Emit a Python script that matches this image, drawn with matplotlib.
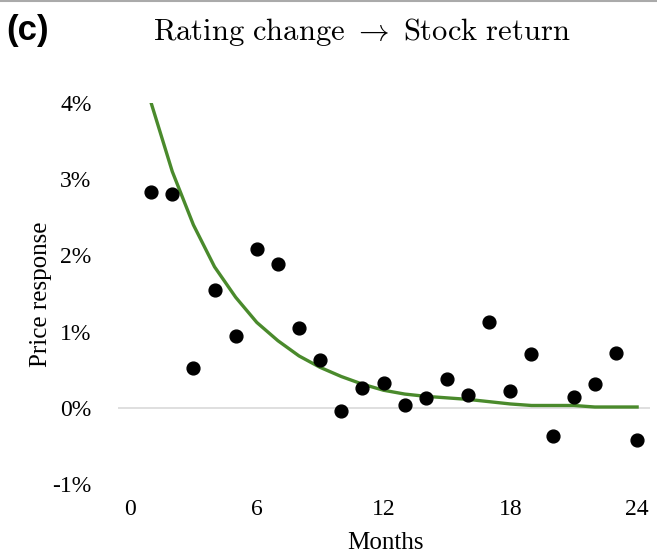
import matplotlib
matplotlib.use("Agg")
import matplotlib.pyplot as plt

months = list(range(1, 25))
price_response = [2.83, 2.81, 0.52, 1.54, 0.94, 2.09, 1.89, 1.05, 0.63, -0.04,
                  0.26, 0.33, 0.03, 0.13, 0.38, 0.17, 1.12, 0.22, 0.71, -0.37,
                  0.14, 0.31, 0.72, -0.42]
fit_curve = [4.0, 3.1, 2.4, 1.85, 1.45, 1.12, 0.88, 0.68, 0.53, 0.41,
             0.31, 0.23, 0.18, 0.15, 0.13, 0.11, 0.08, 0.05, 0.03, 0.03,
             0.03, 0.01, 0.01, 0.01]
xticks = [0, 6, 12, 18, 24]
yticks = [-1, 0, 1, 2, 3, 4]
ytick_labels = ["-1%", "0%", "1%", "2%", "3%", "4%"]

plt.rcParams['mathtext.fontset'] = 'cm'
serif = 'Liberation Serif'

fig = plt.figure(figsize=(6.57, 5.55), dpi=100)
ax = fig.add_axes([0.1796, 0.128, 0.8094, 0.6864])
ax.axhline(0, color='#d9d9d9', lw=1.2, zorder=1)
ax.plot(months, fit_curve, color='#4a8a2c', lw=2.4, zorder=2,
        solid_joinstyle='round')
ax.scatter(months, price_response, s=85, color='black', zorder=3)
ax.set_xlim(-0.57, 24.6)
ax.set_ylim(-1, 4)
ax.set_xticks(xticks)
ax.set_xticklabels([str(t) for t in xticks], fontfamily=serif, fontsize=17)
ax.set_yticks(yticks)
ax.set_yticklabels(ytick_labels, fontfamily=serif, fontsize=17)
ax.tick_params(axis='y', length=0, pad=19)
ax.tick_params(axis='x', length=0, pad=11)
for s in ax.spines.values():
    s.set_visible(False)

fig.text(0.062, 0.47, "Price response", rotation=90, ha='center', va='center',
         fontfamily=serif, fontsize=18)
fig.text(0.586, 0.022, "Months", ha='center', va='center', fontfamily=serif, fontsize=18)
fig.text(0.551, 0.942, r"$\mathrm{Rating\ change}\ \rightarrow\ \mathrm{Stock\ return}$",
         ha='center', va='center', fontsize=22)
fig.text(0.01, 0.945, "(c)", ha='left', va='center', fontfamily='Liberation Sans',
         fontweight='bold', fontsize=25)
fig.add_artist(plt.Line2D([0, 1], [0.998, 0.998], color='#aaaaaa', lw=1.5))

fig.savefig("out.png", dpi=100)
